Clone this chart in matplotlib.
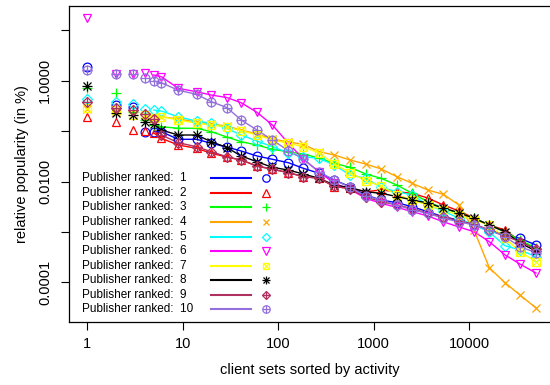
import matplotlib
matplotlib.use("Agg")
import matplotlib.pyplot as plt
from matplotlib.lines import Line2D
import numpy as np

plt.rcParams['font.family'] = ['Liberation Sans', 'DejaVu Sans']

# client-set ranks at which points are marked
ranks = [1, 2, 3, 4, 5, 6, 9, 14, 20, 29, 41, 60, 87, 128, 183, 267, 386, 564, 823,
         1189, 1737, 2529, 3665, 5334, 7780, 11170, 16150, 23570, 33840, 49700]

pub1 = [1.87, 0.33, 0.30, 0.0973, 0.0973, 0.0973, 0.0688, 0.0688, 0.0573, 0.0484, 0.0403,
        0.0321, 0.0276, 0.0236, 0.0183, 0.0146, 0.0107, 0.00789, 0.0054, 0.0043, 0.0038,
        0.00316, 0.00252, 0.0020, 0.00172, 0.00137, 0.00109, 0.000867, 0.000746, 0.00055]
pub2 = [0.188, 0.154, 0.105, 0.102, 0.0917, 0.072, 0.053, 0.0456, 0.0363, 0.0306, 0.0267,
        0.0203, 0.0175, 0.015, 0.0125, 0.0116, 0.00789, 0.00733, 0.00628, 0.0068, 0.00628,
        0.00583, 0.00471, 0.00342, 0.0026, 0.00189, 0.00137, 0.00109, 0.00066, 0.000458]
pub3 = [0.716, 0.578, 0.239, 0.166, 0.132, 0.122, 0.114, 0.114, 0.0973, 0.0764, 0.0616,
        0.053, 0.0435, 0.039, 0.0351, 0.0293, 0.023, 0.0191, 0.0141, 0.0116, 0.00853,
        0.00583, 0.00397, 0.00294, 0.00234, 0.00189, 0.00137, 0.000995, 0.00069, 0.00048]
pub4 = [0.275, 0.239, 0.209, 0.20, 0.19, 0.193, 0.174, 0.152, 0.138, 0.126, 0.105,
        0.0876, 0.0697, 0.0608, 0.0547, 0.039, 0.0336, 0.0267, 0.0222, 0.0178, 0.0125,
        0.0092, 0.00678, 0.00557, 0.00342, 0.00109, 0.000195, 0.0000982, 0.000056, 0.0000309]
pub5 = [0.428, 0.378, 0.345, 0.271, 0.262, 0.25, 0.193, 0.158, 0.143, 0.113, 0.0837,
        0.0636, 0.049, 0.0373, 0.031, 0.0289, 0.0212, 0.0135, 0.0116, 0.00767, 0.00628,
        0.0054, 0.00342, 0.0026, 0.00186, 0.00137, 0.000995, 0.000532, 0.000438, 0.000322]
pub6 = [17.8, 1.36, 1.36, 1.40, 1.30, 1.20, 0.706, 0.605, 0.52, 0.464, 0.366,
        0.236, 0.132, 0.0573, 0.0279, 0.0156, 0.0092, 0.0070, 0.00464, 0.00369, 0.00308,
        0.00252, 0.00207, 0.00159, 0.00125, 0.00101, 0.00064, 0.00035, 0.00023, 0.000153]
pub7 = [0.283, 0.262, 0.209, 0.209, 0.179, 0.193, 0.166, 0.143, 0.132, 0.121, 0.102,
        0.0837, 0.0666, 0.0573, 0.049, 0.0367, 0.0222, 0.015, 0.0104, 0.00814, 0.0054,
        0.0043, 0.00342, 0.00272, 0.00216, 0.00172, 0.00137, 0.000757, 0.000405, 0.000256]
pub8 = [0.796, 0.225, 0.209, 0.15, 0.138, 0.105, 0.0837, 0.0837, 0.0616, 0.0473, 0.0321,
        0.0247, 0.0191, 0.0169, 0.0141, 0.0116, 0.00853, 0.00754, 0.00628, 0.00583, 0.00504,
        0.0043, 0.00374, 0.00298, 0.0024, 0.00186, 0.00137, 0.00101, 0.0006, 0.00042]
pub9 = [0.383, 0.287, 0.262, 0.215, 0.171, 0.0837, 0.0589, 0.049, 0.039, 0.031, 0.0267,
        0.0203, 0.0175, 0.015, 0.0125, 0.0116, 0.00814, 0.0071, 0.00492, 0.0040, 0.00342,
        0.00291, 0.00234, 0.0020, 0.00164, 0.00144, 0.00109, 0.00083, 0.00064, 0.000452]
pub10 = [1.63, 1.36, 1.36, 1.12, 0.99, 0.91, 0.65, 0.537, 0.383, 0.294, 0.166,
         0.105, 0.0666, 0.0408, 0.0279, 0.0156, 0.0107, 0.00767, 0.00515, 0.0043, 0.00342,
         0.00272, 0.00234, 0.00186, 0.00159, 0.00137, 0.00109, 0.000804, 0.000508, 0.00039]

series = [pub1, pub2, pub3, pub4, pub5, pub6, pub7, pub8, pub9, pub10]
labels = ["Publisher ranked:  %d" % i for i in range(1, 11)]
colors = ["#0000FF", "#FF0000", "#00FF00", "#FFA500", "#00FFFF",
          "#FF00FF", "#FFFF00", "#000000", "#B03060", "#9370DB"]
# marker components (R pch 1..10 look-alikes)
markers = [["o"], ["^"], ["+"], ["x"], ["D"], ["v"], ["s", "x"], ["+", "x"], ["D", "+"], ["o", "+"]]
msizes = {"o": 6.3, "^": 6.3, "v": 6.3, "+": 6.8, "x": 5.8, "D": 5.0, "s": 5.8}

W, H = 550, 385
fig = plt.figure(figsize=(W / 100, H / 100), dpi=100)
ax = fig.add_axes([69 / W, 1 - 322 / H, 482 / W, 316 / H])
ax.set_xscale("log")
ax.set_yscale("log")
ax.set_xlim(0.648, 71400)
ax.set_ylim(1.63e-5, 30.4)

line_start = 4
for vals, c, mk in zip(series, colors, markers):
    ax.plot(ranks[line_start:], vals[line_start:], color=c, lw=1.0, zorder=2)
    for m in mk:
        ax.plot(ranks, vals, linestyle="none", marker=m, ms=msizes[m], mfc="none",
                mec=c, mew=0.9, zorder=3)

ax.set_xticks([1, 10, 100, 1000, 10000])
ax.set_xticklabels(["1", "10", "100", "1000", "10000"])
ax.set_yticks([10, 1, 0.1, 0.01, 0.001, 0.0001])
ax.set_yticklabels(["", "1.0000", "", "0.0100", "", "0.0001"], rotation=90, va="center")
ax.minorticks_off()
ax.tick_params(axis="both", direction="out", length=6, width=0.8, labelsize=10.5, colors="black")
ax.tick_params(axis="x", pad=5)
ax.tick_params(axis="y", pad=6)
for s in ax.spines.values():
    s.set_linewidth(0.9)

fig.text(310 / W, 1 - 370 / H, "client sets sorted by activity", ha="center", va="center", fontsize=10.5)
fig.text(22 / W, 1 - 164 / H, "relative popularity (in %)", ha="center", va="center",
         rotation=90, fontsize=10.5)

# legend (no frame): text, line sample, marker sample
for i, (lab, c, mk) in enumerate(zip(labels, colors, markers)):
    yy = 1 - (178.3 + 14.56 * i) / H
    fig.text(82 / W, yy, lab, ha="left", va="center", fontsize=8.5)
    fig.add_artist(Line2D([210.7 / W, 250.7 / W], [yy, yy], color=c, lw=1.5,
                          transform=fig.transFigure))
    for m in mk:
        fig.add_artist(Line2D([266 / W], [yy], linestyle="none", marker=m, ms=msizes[m] * 0.85,
                              mfc="none", mec=c, mew=0.9, transform=fig.transFigure))

fig.savefig("out.png", dpi=100)
